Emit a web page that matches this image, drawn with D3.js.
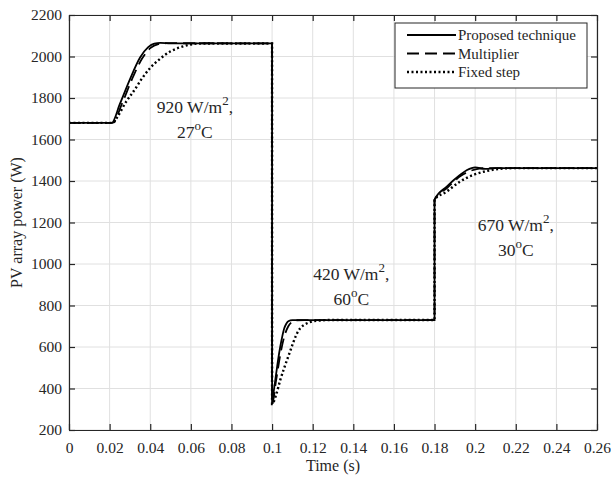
<!DOCTYPE html>
<html>
<head>
<meta charset="utf-8">
<script src="https://cdn.jsdelivr.net/npm/d3@7"></script>
<style>
  body { margin: 0; background: #fff; }
  text { font-family: "Liberation Serif", "Times New Roman", serif; fill: #262626; }
</style>
</head>
<body>
<div id="chart"></div>
<script>
// Chart Size Setup
var margin = { top: 15, right: 14, bottom: 49, left: 69 };
var width = 611 - margin.left - margin.right;
var height = 479 - margin.top - margin.bottom;

// Data: [time (s), power (W)]
var proposed = [
  [0, 1680], [0.021, 1680], [0.025, 1770], [0.030, 1890], [0.035, 1995], [0.039, 2045],
  [0.042, 2062], [0.045, 2066], [0.050, 2063], [0.1, 2063],
  [0.1, 325], [0.101, 400], [0.102, 470], [0.103, 540], [0.104, 600], [0.105, 650],
  [0.106, 690], [0.107, 712], [0.108, 724], [0.110, 730], [0.115, 730], [0.18, 730],
  [0.18, 1310], [0.186, 1373], [0.1925, 1429], [0.196, 1453], [0.200, 1466], [0.205, 1458],
  [0.210, 1462], [0.26, 1462]
];
var multiplier = [
  [0, 1680], [0.0215, 1680], [0.026, 1770], [0.031, 1890], [0.036, 1990], [0.040, 2040],
  [0.044, 2060], [0.048, 2064], [0.1, 2063],
  [0.1, 325], [0.102, 440], [0.104, 560], [0.106, 650], [0.108, 700], [0.110, 722],
  [0.112, 729], [0.116, 730], [0.18, 730],
  [0.18, 1310], [0.186, 1365], [0.193, 1425], [0.198, 1450], [0.202, 1460], [0.206, 1462],
  [0.26, 1462]
];
var fixedStep = [
  [0, 1680], [0.0215, 1680], [0.024, 1712], [0.028, 1780], [0.032, 1835], [0.036, 1895],
  [0.040, 1945], [0.045, 1990], [0.050, 2025], [0.055, 2045], [0.060, 2058], [0.065, 2063],
  [0.1, 2063],
  [0.1, 325], [0.102, 370], [0.104, 440], [0.106, 500], [0.108, 555], [0.110, 610],
  [0.112, 660], [0.114, 692], [0.116, 708], [0.118, 718], [0.120, 724], [0.124, 728],
  [0.128, 730], [0.18, 730],
  [0.18, 1310], [0.186, 1349], [0.1925, 1397], [0.199, 1429], [0.2057, 1448], [0.2122, 1459],
  [0.219, 1462], [0.26, 1462]
];

var seriesNames = ["Proposed technique", "Multiplier", "Fixed step"];
var seriesDash = ["none", "12,6", "2,2.5"];
var xTicks = d3.range(0, 0.2601, 0.02);
var yTicks = d3.range(200, 2201, 200);

// annotations: [time, power of first baseline, irradiance, temperature]
var notes = [
  [0.062, 1729, "920", "27"],
  [0.139, 923, "420", "60"],
  [0.220, 1159, "670", "30"]
];

var svg = d3.select('#chart')
  .append('svg')
  .attr('width', 611)
  .attr('height', 479);

var chart = svg.append('g')
  .attr('transform', 'translate(' + margin.left + ',' + margin.top + ')');

///////////////////////
// Scales
var x = d3.scaleLinear().domain([0, 0.26]).range([0, width]);
var y = d3.scaleLinear().domain([200, 2200]).range([height, 0]);

///////////////////////
// Grid
chart.append('g').selectAll('line')
  .data(xTicks).enter().append('line')
  .attr('x1', function(d) { return x(d); }).attr('x2', function(d) { return x(d); })
  .attr('y1', 0).attr('y2', height)
  .attr('stroke', '#e0e0e0').attr('stroke-width', 1);

chart.append('g').selectAll('line')
  .data(yTicks).enter().append('line')
  .attr('y1', function(d) { return y(d); }).attr('y2', function(d) { return y(d); })
  .attr('x1', 0).attr('x2', width)
  .attr('stroke', '#e0e0e0').attr('stroke-width', 1);

///////////////////////
// Lines
var line = d3.line()
  .x(function(d) { return x(d[0]); })
  .y(function(d) { return y(d[1]); })
  .curve(d3.curveMonotoneX);

var allSeries = [proposed, multiplier, fixedStep];
// draw fixed step first so solid sits on top
[2, 1, 0].forEach(function(i) {
  chart.append('path')
    .datum(allSeries[i])
    .attr('fill', 'none')
    .attr('stroke', '#000')
    .attr('stroke-width', i == 2 ? 2.4 : 1.8)
    .attr('stroke-dasharray', seriesDash[i])
    .attr('d', line);
});

///////////////////////
// Axis (box with inward ticks)
var fmt = function(d) { return String(+d.toFixed(2)); };

chart.append('g')
  .attr('class', 'x axis')
  .attr('transform', 'translate(0,' + height + ')')
  .call(d3.axisBottom(x).tickValues(xTicks).tickFormat(fmt).tickSizeInner(-6).tickSizeOuter(0).tickPadding(12));

chart.append('g')
  .call(d3.axisTop(x).tickValues(xTicks).tickFormat('').tickSizeInner(-6).tickSizeOuter(0));

chart.append('g')
  .attr('class', 'y axis')
  .call(d3.axisLeft(y).tickValues(yTicks).tickFormat(d3.format('d')).tickSizeInner(-6).tickSizeOuter(0).tickPadding(7));

chart.append('g')
  .attr('transform', 'translate(' + width + ',0)')
  .call(d3.axisRight(y).tickValues(yTicks).tickFormat('').tickSizeInner(-6).tickSizeOuter(0));

chart.selectAll('.domain').attr('stroke', '#262626').attr('stroke-width', 1.2);
chart.selectAll('.tick line').attr('stroke', '#262626').attr('stroke-width', 1.2);
chart.selectAll('.tick text')
  .attr('font-family', '"Liberation Serif", serif')
  .attr('font-size', '15.5px')
  .attr('fill', '#262626');

// axis labels
chart.append('text')
  .attr('x', width / 2)
  .attr('y', height + 41)
  .attr('text-anchor', 'middle')
  .attr('font-size', '16px')
  .text('Time (s)');

chart.append('text')
  .attr('transform', 'translate(' + (-47) + ',' + (height / 2) + ') rotate(-90)')
  .attr('text-anchor', 'middle')
  .attr('font-size', '16px')
  .text('PV array power (W)');

///////////////////////
// Annotations
notes.forEach(function(n) {
  var t1 = chart.append('text')
    .attr('x', x(n[0]))
    .attr('y', y(n[1]))
    .attr('text-anchor', 'middle')
    .attr('font-size', '17.5px');
  t1.append('tspan').text(n[2] + ' W/m');
  t1.append('tspan').attr('dy', -8).attr('font-size', '13px').text('2');
  t1.append('tspan').attr('dy', 8).text(',');

  var t2 = chart.append('text')
    .attr('x', x(n[0]))
    .attr('y', y(n[1]) + 25)
    .attr('text-anchor', 'middle')
    .attr('font-size', '17.5px');
  t2.append('tspan').text(n[3]);
  t2.append('tspan').attr('dy', -8).attr('font-size', '13px').text('o');
  t2.append('tspan').attr('dy', 8).text('C');
});

///////////////////////
// Legend
var lg = chart.append('g')
  .attr('transform', 'translate(' + (width - 202) + ',8)');

lg.append('rect')
  .attr('width', 192).attr('height', 65)
  .attr('fill', '#fff').attr('stroke', '#262626').attr('stroke-width', 1);

seriesNames.forEach(function(name, i) {
  var yy = 12 + i * 18.5;
  lg.append('line')
    .attr('x1', 12).attr('x2', 61)
    .attr('y1', yy).attr('y2', yy)
    .attr('stroke', '#000')
    .attr('stroke-width', i == 2 ? 2.4 : 1.8)
    .attr('stroke-dasharray', seriesDash[i]);
  lg.append('text')
    .attr('x', 63).attr('y', yy + 5)
    .attr('font-size', '15px')
    .text(name);
});
</script>
</body>
</html>
